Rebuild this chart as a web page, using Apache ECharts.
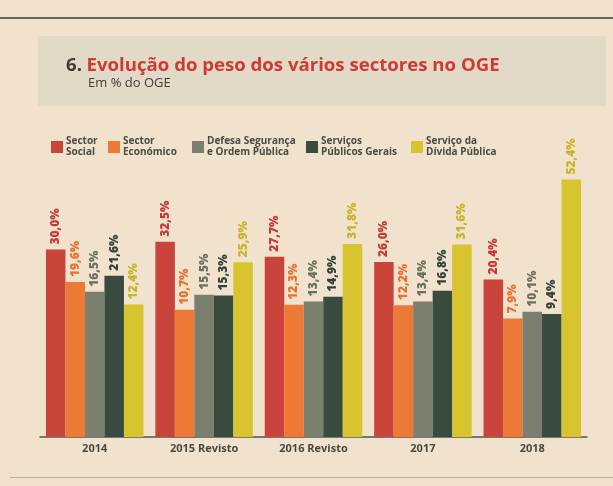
<!DOCTYPE html>
<html>
<head>
<meta charset="utf-8">
<script src="https://cdn.jsdelivr.net/npm/echarts@6/dist/echarts.min.js"></script>
<style>
  html, body { margin: 0; padding: 0; background: #f1e4cf; }
  #chart { width: 613px; height: 486px; }
</style>
</head>
<body>
<div id="chart"></div>
<script>
// Budget share per sector (% of OGE)
const categories = ['2014', '2015 Revisto', '2016 Revisto', '2017', '2018'];
const sectorNames = ['Sector Social', 'Sector Económico', 'Defesa Segurança e Ordem Pública', 'Serviços Públicos Gerais', 'Serviço da Dívida Pública'];
const legendLines = ['Sector\nSocial', 'Sector\nEconómico', 'Defesa Segurança\ne Ordem Pública', 'Serviços\nPúblicos Gerais', 'Serviço da\nDívida Pública'];
const sectorSocial     = [30.0, 32.5, 27.7, 26.0, 20.4];
const sectorEconomico  = [19.6, 10.7, 12.3, 12.2, 7.9];
const defesaSeguranca  = [16.5, 15.5, 13.4, 13.4, 10.1];
const servicosPublicos = [21.6, 15.3, 14.9, 16.8, 9.4];
const servicoDivida    = [12.4, 25.9, 31.8, 31.6, 52.4];

const seriesValues = [sectorSocial, sectorEconomico, defesaSeguranca, servicosPublicos, servicoDivida];
const barColors   = ['#c9443a', '#ec7936', '#7b7f6e', '#394a3e', '#d8c42e'];
const labelColors = ['#c63a33', '#e9722f', '#6c705f', '#33433a', '#c8b52a'];
const legendLeft  = [51, 108, 192, 306, 411];

const chart = echarts.init(document.getElementById('chart'), null, { renderer: 'canvas' });

const fmt = v => v.toFixed(1).replace('.', ',') + '%';

const option = {
  backgroundColor: '#f0e2cc',
  animation: false,
  textStyle: { fontFamily: 'Open Sans' },
  graphic: [
    { type: 'rect', shape: { x: 0, y: 17, width: 613, height: 2 }, style: { fill: '#6a6556' }, z: 0 },
    { type: 'rect', shape: { x: 38, y: 36, width: 568, height: 70 }, style: { fill: '#e2d9c7' }, z: 0 },
    { type: 'rect', shape: { x: 10, y: 477, width: 603, height: 1 }, style: { fill: '#b9ae9a' }, z: 0 }
  ],
  title: [
    {
      text: '{n|6.} {t|Evolução do peso dos vários sectores no OGE}',
      left: 66, top: 56, padding: 0,
      textStyle: {
        rich: {
          n: { fontFamily: 'Open Sans', fontSize: 18.6, fontWeight: 'bold', color: '#3e3d38' },
          t: { fontFamily: 'Open Sans', fontSize: 18.6, fontWeight: 'bold', color: '#cf3b34' }
        }
      }
    },
    {
      text: 'Em % do OGE',
      left: 88, top: 77, padding: 0,
      textStyle: { fontFamily: 'Open Sans', fontSize: 13, fontWeight: 'normal', color: '#3e3d38' }
    }
  ],
  legend: sectorNames.map((name, i) => ({
    data: [name],
    left: legendLeft[i],
    top: 136,
    padding: 0,
    itemWidth: 12,
    itemHeight: 12,
    itemGap: 0,
    icon: 'rect',
    formatter: () => legendLines[i],
    textStyle: { fontFamily: 'Open Sans', fontSize: 10, fontWeight: 'bold', color: '#4b4a44', lineHeight: 11, padding: [0, 0, 0, -2] }
  })),
  grid: { left: 40, right: 26, top: 171.4, bottom: 49, containLabel: false },
  xAxis: {
    type: 'category',
    data: categories,
    axisLine: { onZero: false, lineStyle: { color: '#57534b', width: 1.5 } },
    axisTick: { show: false },
    axisLabel: { fontFamily: 'Open Sans', fontSize: 11, fontWeight: 'bold', color: '#4a4842', margin: 6 }
  },
  yAxis: {
    type: 'value',
    min: -30,
    max: 55,
    startValue: -30,
    show: false,
    splitLine: { show: false }
  },
  series: sectorNames.map((name, i) => ({
    name: name,
    type: 'bar',
    data: seriesValues[i],
    barWidth: 19.5,
    barGap: '0%',
    itemStyle: { color: barColors[i] },
    label: {
      show: true,
      position: 'top',
      rotate: 90,
      align: 'left',
      verticalAlign: 'middle',
      distance: 5,
      formatter: p => fmt(p.value),
      fontFamily: 'Open Sans',
      fontSize: 12,
      fontWeight: 800,
      color: labelColors[i]
    }
  }))
};

chart.setOption(option);
</script>
</body>
</html>
